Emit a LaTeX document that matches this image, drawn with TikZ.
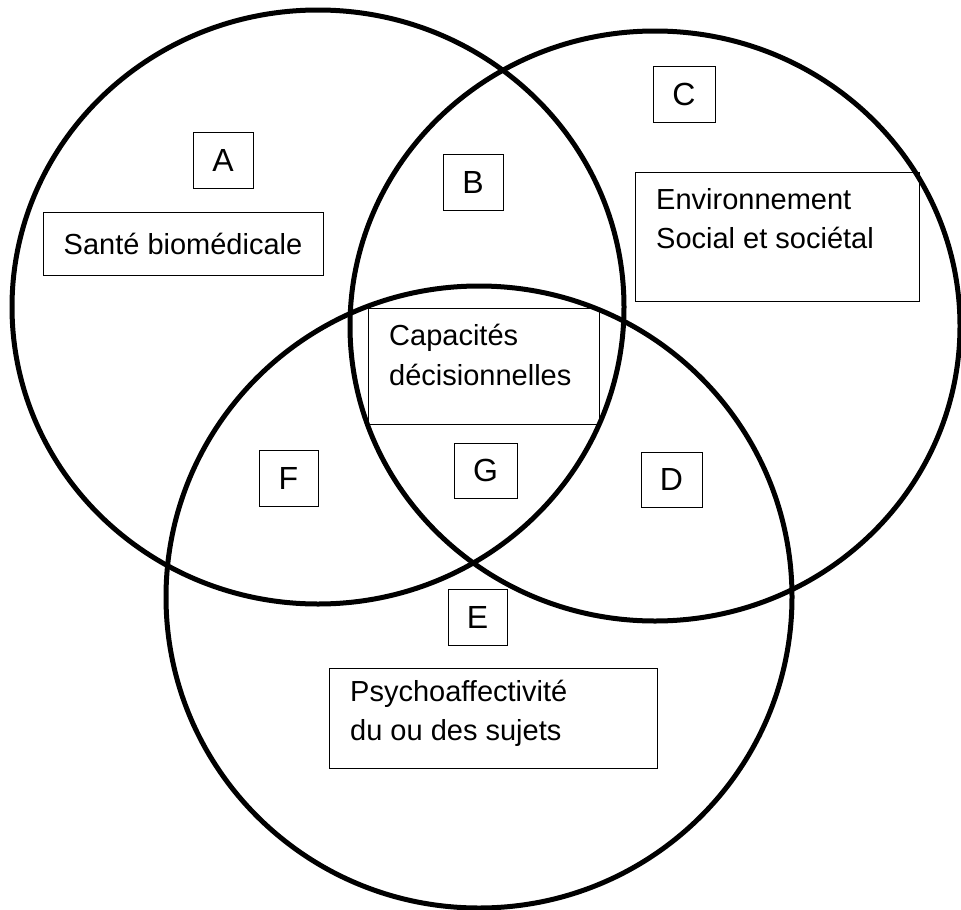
\documentclass[tikz,border=0pt]{standalone}
\usepackage{fontspec}
\setmainfont{Liberation Sans}
\begin{document}
\begin{tikzpicture}[x=1pt,y=-1pt,
  font=\fontsize{29}{35}\selectfont,
  ring/.style={line width=5pt},
  letterbox/.style={draw, line width=1pt, minimum width=60pt, minimum height=56pt, inner sep=0pt, font=\fontsize{32}{38}\selectfont},
  labelbox/.style={draw, line width=1pt, inner sep=0pt},
  txt/.style={anchor=base west, inner sep=0pt}]
\useasboundingbox (0,0) rectangle (961,910);
% circles
\draw[ring] (318,307) ellipse [x radius=306pt, y radius=297pt];
\draw[ring] (655,326) ellipse [x radius=305pt, y radius=295pt];
\draw[ring] (479,597) ellipse [x radius=313pt, y radius=311pt];
% letter boxes
\node[letterbox] (A) at (223,160.5) {A};
\node[letterbox] (B) at (473,182) {B};
\node[letterbox, minimum width=62pt] (C) at (684,94) {C};
\node[letterbox, minimum width=63pt, minimum height=55pt] (G) at (485.5,470.5) {G};
\node[letterbox, minimum width=59pt] (F) at (288.5,478) {F};
\node[letterbox, minimum width=61pt, minimum height=55pt] (D) at (671.5,479.5) {D};
\node[letterbox, minimum width=59pt] (E) at (477.5,617) {E};
% label boxes
\node[labelbox, minimum width=280pt, minimum height=63pt] (sante) at (183,243.5) {Santé biomédicale};
\node[labelbox, minimum width=284pt, minimum height=129pt] (envbox) at (777,236.5) {};
\node[txt] (env1) at (656,209) {Environnement};
\node[txt] (env2) at (656,248) {Social et sociétal};
\node[labelbox, minimum width=231pt, minimum height=116pt] (capbox) at (483.5,366) {};
\node[txt] (cap1) at (389,345) {Capacités};
\node[txt] (cap2) at (389,385) {décisionnelles};
\node[labelbox, minimum width=328pt, minimum height=100pt] (psybox) at (493,718) {};
\node[txt] (psy1) at (350,701) {Psychoaffectivité};
\node[txt] (psy2) at (350,740) {du ou des sujets};
\end{tikzpicture}
\end{document}
